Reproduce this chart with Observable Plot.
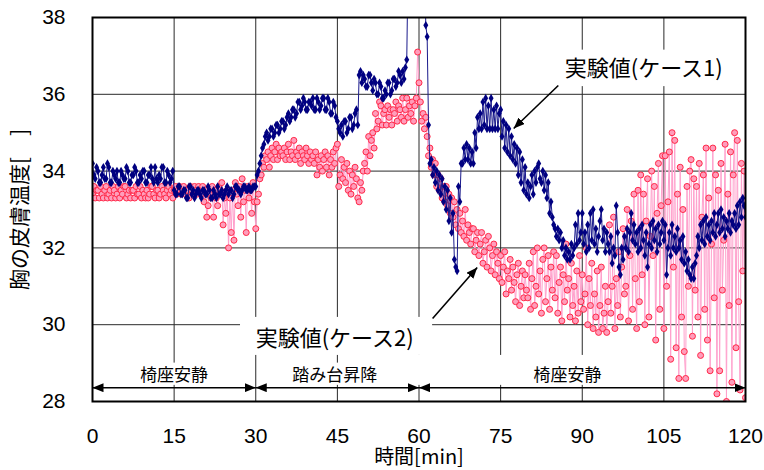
<!DOCTYPE html>
<html><head><meta charset="utf-8">
<script src="https://cdn.jsdelivr.net/npm/d3@7"></script>
<script src="https://cdn.jsdelivr.net/npm/@observablehq/plot@0.6"></script>
<style>body{margin:0;background:#fff} svg{display:block}</style>
</head><body><div id="chart"></div>
<script>
// sampling of the measured series (minutes)
const startMin = 0, stepMin = 0.25;
// 実験値(ケース1) — chest skin temperature, read every 0.25 min (one row = 5 min)
const case1 = [
34.2,33.9,33.8,34.1,34.0,33.7,33.7,33.9,34.1,33.8,33.8,34.2,34.1,33.7,33.7,34.0,33.9,33.8,34.0,33.7,
33.7,34.0,33.9,33.8,33.8,34.1,34.0,33.7,33.7,33.9,33.9,34.1,34.0,33.7,33.7,33.9,33.8,34.0,34.0,33.7,
33.7,33.9,33.9,34.1,33.8,33.7,34.1,33.8,33.7,33.9,33.8,34.1,34.1,33.7,33.7,34.0,33.9,33.7,33.8,34.0,
33.5,33.4,33.4,33.6,33.6,33.4,33.4,33.5,33.5,33.3,33.3,33.6,33.6,33.4,33.5,33.3,33.4,33.5,33.5,33.4,
33.3,33.5,33.5,33.4,33.4,33.6,33.5,33.3,33.3,33.5,33.4,33.3,33.6,33.4,33.4,33.5,33.3,33.4,33.5,33.6,
33.4,33.5,33.5,33.3,33.4,33.6,33.6,33.5,33.5,33.4,33.5,33.6,33.6,33.5,33.5,33.6,33.5,33.5,33.6,33.6,
33.6,33.9,34.0,34.2,34.4,34.6,34.7,34.9,35.0,34.8,34.9,35.1,35.1,34.9,35.0,35.2,35.2,35.0,35.1,35.3,
35.3,35.1,35.2,35.4,35.5,35.3,35.4,35.6,35.6,35.4,35.5,35.8,35.8,35.6,35.7,35.9,35.8,35.6,35.6,35.8,
35.8,35.7,35.9,35.6,35.6,35.9,35.8,35.6,35.7,35.9,35.9,35.6,35.6,35.9,35.8,35.5,35.5,35.8,35.7,35.4,
35.3,35.1,35.0,35.2,34.9,35.3,35.3,35.0,35.1,35.4,35.4,35.1,35.2,35.5,35.6,35.2,36.5,36.6,36.3,36.5,
36.4,36.2,36.2,36.5,36.5,36.3,36.1,36.4,36.3,36.0,36.0,36.3,36.2,35.9,35.9,36.1,36.0,36.3,36.3,36.0,
36.1,36.4,36.4,36.2,36.3,36.6,36.5,36.3,36.6,36.4,36.7,36.9,39.5,39.5,39.5,39.5,39.5,39.5,39.5,39.5,
39.5,39.5,39.5,39.5,39.5,37.8,37.5,35.2,34.2,34.3,33.9,34.1,33.7,34.0,33.5,33.9,33.4,33.8,33.2,33.6,
33.0,33.5,32.7,33.3,32.4,32.9,31.7,31.5,31.4,33.6,33.2,34.2,34.2,34.6,34.3,34.7,34.3,34.6,34.2,34.5,
34.2,35.0,34.6,35.4,35.1,35.5,35.1,35.8,35.2,35.9,35.1,35.7,35.1,35.9,35.1,35.6,35.1,35.7,35.1,35.5,
35.6,34.9,35.3,34.6,35.2,34.5,35.1,34.4,34.9,34.3,34.7,34.2,34.6,33.9,34.5,33.7,34.3,33.5,34.1,33.4,
33.7,33.3,33.6,33.9,33.4,34.0,33.7,34.1,34.2,33.8,33.7,34.0,33.5,33.9,33.3,33.7,32.9,33.2,32.8,32.6,
32.5,32.3,32.5,32.2,32.4,32.0,32.2,31.8,32.0,31.7,31.9,31.7,32.1,31.8,32.0,32.6,32.1,32.9,32.2,32.4,
32.9,32.1,32.4,31.9,32.6,32.0,32.9,32.2,33.0,32.1,32.5,31.9,32.3,32.7,33.0,32.2,32.5,31.9,32.4,32.1,
31.9,32.3,31.6,32.0,31.8,33.1,32.4,31.5,31.3,32.0,31.7,32.3,32.0,32.5,31.9,32.4,32.9,32.2,32.6,32.1,
32.4,31.9,32.5,32.0,32.6,32.2,31.8,32.4,31.5,32.1,32.6,32.0,32.7,32.2,32.5,31.9,32.6,32.1,32.4,32.7,
32.2,32.6,31.3,32.0,32.4,31.8,32.6,32.0,32.3,31.9,32.5,32.0,32.2,31.7,32.3,31.6,31.9,31.4,31.7,31.3,
31.2,31.5,31.2,31.6,31.8,32.3,32.0,32.6,32.2,32.7,32.1,32.8,32.3,32.6,32.2,32.7,32.4,32.9,32.3,32.6,
32.9,32.4,33.0,32.5,32.8,32.3,32.7,32.5,32.9,32.4,32.7,32.6,32.9,32.5,33.1,32.6,33.2,32.8,33.3,33.1,
32.8];
// 実験値(ケース2)
const case2 = [
33.4,33.6,33.3,33.5,33.5,33.3,33.6,33.4,33.3,33.5,33.6,33.3,33.4,33.5,33.3,33.6,33.5,33.3,33.4,33.6,
33.3,33.5,33.4,33.6,33.6,33.3,33.4,33.5,33.3,33.5,33.5,33.3,33.6,33.4,33.4,33.6,33.3,33.5,33.4,33.3,
33.5,33.3,33.4,33.6,33.6,33.4,33.3,33.5,33.5,33.3,33.4,33.6,33.5,33.4,33.3,33.5,33.6,33.4,33.5,33.3,
33.5,33.6,33.4,33.5,33.6,33.4,33.5,33.6,33.4,33.5,33.5,33.3,33.6,33.5,33.4,33.6,33.5,33.4,33.6,33.5,
33.4,33.6,33.2,33.5,32.8,33.1,33.4,33.3,33.6,32.8,33.5,33.3,33.1,33.6,33.5,33.7,32.6,33.3,32.9,33.5,
32.0,33.3,32.4,33.5,32.2,33.7,33.4,33.1,33.6,32.8,33.8,33.2,33.5,32.4,33.6,33.3,33.5,32.9,33.7,33.2,
32.5,33.2,33.4,33.8,33.9,34.2,34.1,34.4,34.3,34.5,34.1,34.4,34.6,34.3,34.5,34.7,34.3,34.6,34.4,34.5,
34.4,34.6,34.3,34.5,34.7,34.3,34.5,34.4,34.8,34.3,34.5,34.4,34.6,34.2,34.5,34.4,34.3,34.6,34.4,34.2,
34.5,34.3,34.4,34.2,34.5,33.9,34.3,34.1,34.4,34.0,34.3,34.5,34.1,34.4,33.9,34.3,34.1,34.5,34.2,34.6,
34.7,33.6,33.9,34.3,33.8,34.1,33.7,34.2,33.5,34.0,33.4,33.9,33.6,34.1,33.8,33.3,33.2,33.7,33.5,34.0,
34.2,34.5,34.0,34.9,34.4,34.8,35.0,34.6,35.5,35.1,35.3,35.8,35.7,35.2,35.5,35.6,35.2,35.7,35.4,35.6,
35.2,35.6,35.5,35.8,35.3,35.7,35.6,35.4,35.9,35.3,35.6,35.9,35.4,35.7,35.5,35.8,35.3,35.7,35.9,37.1,
36.3,35.8,35.3,35.5,35.1,35.4,34.9,34.4,34.6,34.1,34.3,33.9,34.2,33.6,33.9,33.5,33.8,33.3,33.6,33.2,
33.6,33.1,33.4,32.9,33.3,32.8,33.2,32.6,33.0,32.5,32.9,32.4,32.7,32.3,33.0,32.2,32.6,32.4,32.1,32.5,
32.5,31.9,32.2,32.4,31.8,32.1,32.4,31.6,31.9,32.2,31.5,32.3,32.0,31.4,31.8,32.1,31.3,31.9,31.6,31.2,
31.8,31.1,31.5,31.9,30.8,31.4,31.2,31.7,30.9,31.5,31.1,30.6,31.3,31.6,30.5,31.0,31.4,30.7,31.3,30.9,
30.7,31.6,30.4,31.2,31.9,30.5,31.0,32.0,30.8,31.4,30.3,31.7,32.0,30.6,31.2,31.8,30.4,31.5,30.9,31.9,
30.7,31.8,30.3,31.1,31.5,30.1,31.3,30.6,32.1,30.9,31.2,30.2,31.6,30.5,31.0,30.1,31.4,30.3,31.8,30.6,
31.3,30.4,30.8,32.0,30.0,31.2,30.5,31.6,29.9,30.8,30.2,31.4,29.8,30.5,31.5,29.9,30.3,31.0,29.8,30.6,
32.6,30.3,31.0,32.8,29.9,31.2,30.5,31.9,30.2,31.5,32.5,30.8,31.0,33.0,30.1,31.8,32.7,30.4,33.4,31.2,
29.9,33.5,30.6,33.9,31.3,33.4,30.0,32.7,33.8,30.2,32.3,34.0,31.8,33.6,29.6,32.9,34.2,30.4,33.1,34.4,
29.9,34.4,31.0,33.2,34.5,29.1,35.0,31.5,34.8,29.4,33.4,28.6,34.1,30.2,33.0,29.3,28.6,33.6,31.0,34.0,
34.3,29.7,33.8,30.9,33.6,30.2,34.2,29.2,32.8,33.9,30.4,34.6,29.6,33.3,28.8,32.1,34.6,30.7,33.9,28.2,
33.5,28.8,34.2,30.9,32.2,34.7,28.0,33.4,30.5,34.5,28.5,33.9,35.0,29.4,34.8,30.6,28.3,34.2,31.4,34.0,
28.1];

const xTicks = [0, 15, 30, 45, 60, 75, 90, 105, 120];
const yTicks = [28, 30, 32, 34, 36, 38];
const xLabel = "時間[min]";
const yLabel = "胸の皮膚温度[　]";
const seriesLabels = ["実験値(ケース1)", "実験値(ケース2)"];
const phaseNames = ["椅座安静", "踏み台昇降", "椅座安静"];
const phaseStart = [0, 30, 60];
const phaseEnd = [30, 60, 120];

// annotation placement (data coordinates)
const seriesLabelX = [101.3, 44.5];
const seriesLabelY = [36.67, 29.64];
const arrowFromX = [85.6, 62.5], arrowFromY = [36.23, 30.16];
const arrowToX = [77.4, 70.7], arrowToY = [35.11, 31.49];
const phaseArrowY = 28.36;
const phaseLabelX = [15, 44.5, 87.3];
const phaseLabelY = 28.68;
// white backgrounds of the text boxes (hide grid lines)
const boxX1 = [84.0, 27.2, 2, 32, 59.8];
const boxX2 = [119.0, 62.5, 28, 58, 102];
const boxY1 = [36.2, 29.2, 28.42, 28.42, 28.42];
const boxY2 = [37.15, 30.19, 29.0, 29.0, 29.2];

const pts1 = case1.map((v, i) => ({t: startMin + i * stepMin, v}));
const pts2 = case2.map((v, i) => ({t: startMin + i * stepMin, v}));
const labels = seriesLabels.map((s, i) => ({s, x: seriesLabelX[i], y: seriesLabelY[i]}));
const arrows = arrowFromX.map((d, i) => ({x1: d, y1: arrowFromY[i], x2: arrowToX[i], y2: arrowToY[i]}));
const phases = phaseNames.map((s, i) => ({s, a: phaseStart[i], b: phaseEnd[i], lx: phaseLabelX[i]}));
const boxes = boxX1.map((d, i) => ({x1: d, x2: boxX2[i], y1: boxY1[i], y2: boxY2[i]}));

function headMarker(orient) {
  return (color) => {
    const ns = "http://www.w3.org/2000/svg";
    const m = document.createElementNS(ns, "marker");
    m.setAttribute("viewBox", "-11 -4.5 11 9");
    m.setAttribute("markerWidth", "11");
    m.setAttribute("markerHeight", "9");
    m.setAttribute("markerUnits", "userSpaceOnUse");
    m.setAttribute("orient", orient);
    const p = document.createElementNS(ns, "path");
    p.setAttribute("d", "M-11,-4.5L0,0L-11,4.5Z");
    p.setAttribute("fill", color);
    p.setAttribute("stroke", "none");
    m.appendChild(p);
    return m;
  };
}

const cjk = "'Noto Sans CJK JP', 'Noto Sans', sans-serif";
const chart = Plot.plot({
  width: 764, height: 470,
  marginLeft: 92, marginRight: 19, marginTop: 17, marginBottom: 69,
  style: {fontSize: "21px", fontFamily: "'Liberation Sans', Arial, sans-serif", color: "#000", background: "#fff"},
  x: {domain: [0, 120], ticks: xTicks, tickSize: 0, tickPadding: 27, label: null},
  y: {domain: [28, 38], ticks: yTicks, tickSize: 0, tickPadding: 27, label: null},
  marks: [
    Plot.ruleX(xTicks.filter(d => d > 0 && d < 120), {stroke: "#2a2a2a", strokeWidth: 1}),
    Plot.ruleY(yTicks.filter(d => d > 28 && d < 38), {stroke: "#2a2a2a", strokeWidth: 1}),
    Plot.rect(boxes, {x1: "x1", x2: "x2", y1: "y1", y2: "y2", fill: "#fff"}),
    Plot.line(pts2, {x: "t", y: "v", stroke: "#ffa0cc", strokeWidth: 1, clip: true}),
    Plot.dot(pts2, {x: "t", y: "v", r: 3, fill: "#ff9dbb", stroke: "#ff2848", strokeWidth: 1, clip: true}),
    Plot.line(pts1, {x: "t", y: "v", stroke: "#1a1a8c", strokeWidth: 1, clip: true}),
    Plot.dot(pts1, {x: "t", y: "v", symbol: "diamond", r: 2.6, fill: "#000080", stroke: "none", clip: true}),
    Plot.link(phases, {x1: "a", x2: "b", y1: () => phaseArrowY, y2: () => phaseArrowY,
      stroke: "#000", strokeWidth: 1.6,
      markerStart: headMarker("auto-start-reverse"), markerEnd: headMarker("auto")}),
    Plot.text(phases, {x: "lx", y: () => phaseLabelY, text: "s", fontSize: 17, fontFamily: cjk, fill: "#000"}),
    Plot.link(arrows, {x1: "x1", y1: "y1", x2: "x2", y2: "y2", stroke: "#000", strokeWidth: 1.6,
      markerEnd: headMarker("auto")}),
    Plot.text(labels, {x: "x", y: "y", text: "s", fontSize: 22, fontFamily: cjk, fill: "#000"}),
    Plot.text([xLabel], {frameAnchor: "bottom", dy: 56, textAnchor: "middle", lineAnchor: "middle",
      text: d => d, fontSize: 20, fontFamily: cjk, fill: "#000"}),
    Plot.text([yLabel], {frameAnchor: "left", dx: -72, rotate: -90, textAnchor: "middle", lineAnchor: "middle",
      text: d => d, fontSize: 21, fontFamily: cjk, fill: "#000"}),
    Plot.frame({stroke: "#000", strokeWidth: 2})
  ]
});
document.getElementById("chart").appendChild(chart);
</script>
</body></html>
